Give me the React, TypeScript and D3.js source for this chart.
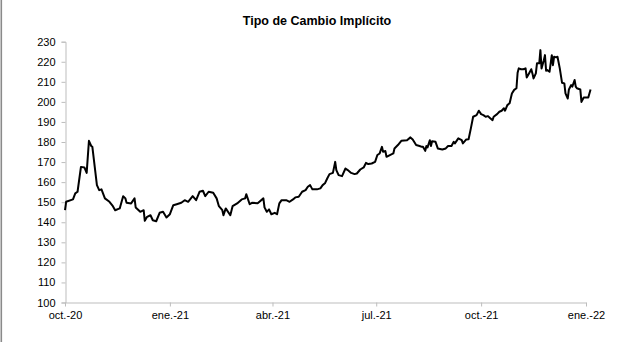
import React, { useEffect, useRef } from "react";
import * as d3 from "d3";

const START_DATE = "2020-10-01";
// days elapsed since START_DATE for each observation
const dayOffsets = [
  0, 1, 7, 9, 11, 14, 17, 19, 21, 23, 24, 28, 30, 32, 35, 39, 42, 44, 48, 51,
  53, 54, 58, 61, 62, 66, 69, 70, 72, 75, 77, 80, 83, 86, 89, 92, 95, 98, 102, 105,
  108, 112, 115, 118, 121, 123, 126, 130, 133, 135, 138, 139, 141, 145, 147, 151, 155, 158, 159, 162,
  164, 169, 174, 175, 177, 179, 181, 184, 186, 188, 190, 194, 197, 200, 202, 205, 208, 211, 213, 215,
  217, 221, 224, 226, 228, 230, 232, 235, 237, 238, 240, 243, 246, 248, 251, 254, 256, 259, 262, 264,
  266, 269, 272, 274, 276, 278, 279, 281, 282, 285, 288, 289, 292, 295, 300, 303, 305, 308, 311, 313,
  314, 316, 317, 318, 320, 321, 322, 325, 327, 331, 334, 336, 339, 341, 342, 345, 348, 349, 352, 354,
  356, 358, 361, 363, 365, 367, 369, 371, 373, 375, 376, 379, 381, 383, 385, 386, 388, 390, 392, 394,
  396, 397, 398, 400, 402, 404, 405, 407, 409, 410, 411, 413, 414, 416, 417, 418, 420, 421, 422, 423,
  425, 427, 428, 429, 431, 432, 434, 436, 438, 439, 441, 442, 444, 445, 447, 448, 449, 452, 453, 455,
  459, 461,
];
const rateValues = [
  146, 150.2, 151.4, 154.4, 155.2, 167.6, 167.3, 164.6, 180.6, 178, 177.6, 158.5, 156, 156.4, 151.9, 150.2, 148, 146, 146.9, 153,
  151.9, 149.7, 149.4, 151.9, 147.4, 145.2, 146, 140.7, 142.7, 143.5, 141, 140.5, 144.7, 145.2, 142.4, 144, 148.5, 149, 149.7, 151,
  150.2, 153, 151, 155.2, 155.7, 153, 155.2, 154.7, 151.9, 148, 146, 143.5, 146.9, 143.5, 148, 149.4, 151.4, 151.9, 154, 149,
  149.7, 149.5, 151.9, 147.4, 145.2, 146.4, 144, 144.7, 144, 149.4, 151, 151, 150.2, 151.4, 152.4, 152.7, 155.2, 156, 157.7, 158.5,
  156.4, 156.4, 156.9, 158.5, 159.4, 161.8, 164, 164.6, 170.1, 166, 163.5, 163, 166.8, 166, 164.6, 164, 164.3, 166.3, 167.3, 169.6,
  169, 169.3, 170.1, 173.5, 174.3, 177.6, 175.1, 175.5, 172.6, 173.5, 174.3, 176.8, 178.5, 180.6, 180.9, 182.3, 181.3, 178.5, 178, 177.6,
  177.6, 175.6, 178, 177.3, 180.9, 178, 180.4, 180.1, 176.8, 176.3, 176.8, 178, 178, 180.1, 179.3, 181.8, 180.9, 179.3, 181.3, 181.4,
  186.8, 192.6, 193.4, 195.6, 193.9, 193.4, 192.6, 192.9, 191.8, 190.9, 192.6, 193.9, 195.1, 195.6, 196.8, 195.6, 198.4, 199.3, 204.2, 206,
  206.8, 214.5, 216.7, 216.3, 216.3, 216.7, 212.2, 214.2, 216.3, 214.2, 211.7, 214.2, 219.2, 219.2, 225.8, 216.7, 220.8, 223.3, 215.5, 215.9,
  215, 223.3, 218.3, 222.5, 222.2, 222.5, 216.7, 209.5, 209.2, 204.2, 201.7, 206.2, 208.4, 207.6, 210.9, 207.6, 206.8, 206.2, 200, 202.2,
  202.2, 206.2,
];
const yTicks = [100, 110, 120, 130, 140, 150, 160, 170, 180, 190, 200, 210, 220, 230];
const xTickDates = ["2020-10-01", "2021-01-01", "2021-04-01", "2021-07-01", "2021-10-01", "2022-01-01"];
const xTickLabels = ["oct.-20", "ene.-21", "abr.-21", "jul.-21", "oct.-21", "ene.-22"];
const TITLE = "Tipo de Cambio Implícito";

const W = 617;
const H = 342;
const FONT = "'Liberation Sans', Arial, Helvetica, sans-serif";

export default function App() {
  const ref = useRef<SVGSVGElement | null>(null);

  useEffect(() => {
    const svg = d3.select(ref.current);
    svg.selectAll("*").remove();

    const parse = d3.utcParse("%Y-%m-%d");
    const start = parse(START_DATE) as Date;
    const data = dayOffsets.map((d, i) => ({
      date: d3.utcDay.offset(start, d),
      value: rateValues[i],
    }));

    const x = d3
      .scaleUtc()
      .domain([parse(xTickDates[0]) as Date, parse(xTickDates[xTickDates.length - 1]) as Date])
      .range([65, 586]);
    const y = d3.scaleLinear().domain([100, 230]).range([302.5, 41.7]);

    svg.append("rect").attr("x", 0).attr("y", 0).attr("width", W).attr("height", H).attr("fill", "#fff");
    svg.append("rect").attr("x", 0.5).attr("y", 0).attr("width", 1.6).attr("height", H).attr("fill", "#8a8a8a");

    svg
      .append("text")
      .attr("x", 317)
      .attr("y", 25)
      .attr("text-anchor", "middle")
      .attr("font-family", FONT)
      .attr("font-weight", "bold")
      .attr("font-size", 12.5)
      .attr("fill", "#000")
      .text(TITLE);

    const yAxis = svg
      .append("g")
      .attr("transform", "translate(65.5,0)")
      .call(d3.axisLeft(y).tickValues(yTicks).tickSize(4).tickPadding(6).tickFormat(d3.format("d")));
    yAxis.select(".domain").attr("stroke", "#bdbdbd");
    yAxis.selectAll(".tick line").attr("stroke", "#bdbdbd");
    yAxis
      .selectAll(".tick text")
      .attr("font-family", FONT)
      .attr("font-size", 11)
      .attr("fill", "#000");

    const xAxis = svg
      .append("g")
      .attr("transform", "translate(0,302.5)")
      .call(
        d3
          .axisBottom(x)
          .tickValues(xTickDates.map((s) => parse(s) as Date))
          .tickSize(4)
          .tickSizeOuter(0)
          .tickPadding(5)
          .tickFormat((_d, i) => xTickLabels[i])
      );
    xAxis.select(".domain").attr("stroke", "#bdbdbd");
    xAxis.selectAll(".tick line").attr("stroke", "#bdbdbd");
    xAxis
      .selectAll(".tick text")
      .attr("font-family", FONT)
      .attr("font-size", 11)
      .attr("fill", "#000");

    const line = d3
      .line<{ date: Date; value: number }>()
      .x((d) => x(d.date))
      .y((d) => y(d.value));

    svg
      .append("path")
      .datum(data)
      .attr("d", line)
      .attr("fill", "none")
      .attr("stroke", "#000")
      .attr("stroke-width", 2)
      .attr("stroke-linejoin", "round");
  }, []);

  return (
    <svg
      ref={ref}
      width={W}
      height={H}
      style={{ position: "absolute", left: 0, top: 0, display: "block" }}
    />
  );
}
